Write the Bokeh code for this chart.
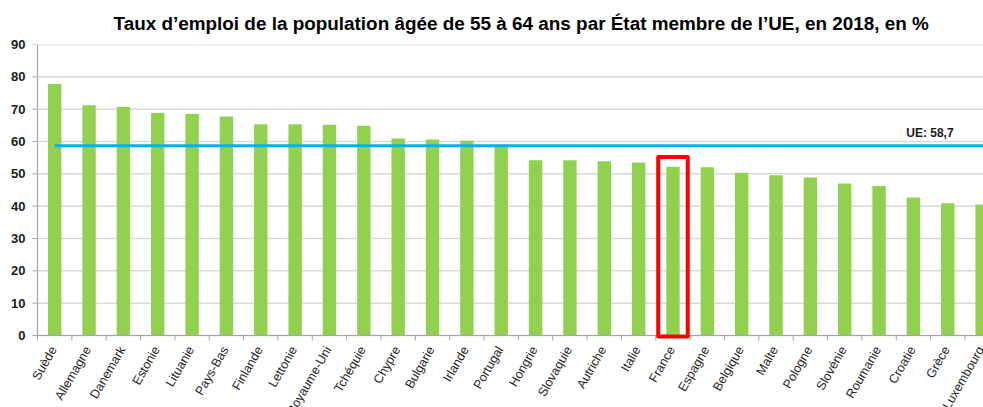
import numpy as np
from bokeh.plotting import figure
from bokeh.models import FixedTicker, Range1d, Label, ColumnDataSource
from bokeh.core.properties import value
from bokeh.embed import file_html
from bokeh.resources import INLINE

countries = ["Suède", "Allemagne", "Danemark", "Estonie", "Lituanie", "Pays-Bas",
             "Finlande", "Lettonie", "Royaume-Uni", "Tchéquie", "Chypre", "Bulgarie",
             "Irlande", "Portugal", "Hongrie", "Slovaquie", "Autriche", "Italie",
             "France", "Espagne", "Belgique", "Malte", "Pologne", "Slovénie",
             "Roumanie", "Croatie", "Grèce", "Luxembourg"]
rates = [77.8, 71.2, 70.7, 68.8, 68.5, 67.7, 65.3, 65.3, 65.2, 64.9, 60.9, 60.6,
         60.2, 59.0, 54.2, 54.2, 53.9, 53.5, 52.2, 52.0, 50.3, 49.6, 48.9, 47.0,
         46.2, 42.7, 40.9, 40.5]
eu_avg = 58.7
eu_label = "UE: 58,7"
y_ticks = [0, 10, 20, 30, 40, 50, 60, 70, 80, 90]
highlight = "France"
title = "Taux d’emploi de la population âgée de 55 à 64 ans par État membre de l’UE, en 2018, en %"

# layout (pixels)
W, H = 983, 407
TOP = 44           # frame top (value 90)
AXIS_X = 37        # position of the value axis
PAD = 10           # extra room left of the axis for the first label
PLOT_H = 291       # height of the 0..90 value area
CAT_PX = 34.35     # width of one category
LABEL_H = H - TOP - PLOT_H
ppu = PLOT_H / 90.0
TICK = 5

n = len(countries)
xs = np.arange(n) + 0.5
src = ColumnDataSource(dict(x=xs, top=rates, name=countries))

p = figure(width=W, height=H,
           x_range=Range1d(-PAD / CAT_PX, (W - AXIS_X) / CAT_PX),
           y_range=Range1d(-LABEL_H / ppu, 90),
           output_backend="svg", toolbar_location=None,
           min_border_left=AXIS_X - PAD, min_border_right=0,
           min_border_top=TOP, min_border_bottom=0)
p.outline_line_color = None
p.background_fill_color = "white"
p.border_fill_color = "white"

p.title.text = title
p.title.text_font = "Liberation Sans"
p.title.text_font_size = "18.9px"
p.title.text_font_style = "bold"
p.title.text_color = "#000000"
p.title.align = "left"
p.title.offset = 86
p.title.standoff = 21

# grid lines
p.xgrid.visible = False
p.ygrid.visible = False
yt = np.array(y_ticks, dtype=float)
p.segment(x0=0, y0=yt, x1=n, y1=yt, line_color="#d9d9d9", line_width=1.5)

p.vbar(x="x", top="top", width=0.39, source=src, fill_color="#92d050", line_color=None)

# axes drawn as lines with tick marks
tick_x = TICK / CAT_PX
tick_y = TICK / ppu
p.segment(x0=0, y0=0, x1=0, y1=90, line_color="#a6a6a6", line_width=1.2)
p.segment(x0=-tick_x, y0=yt, x1=0, y1=yt, line_color="#a6a6a6", line_width=1)
p.segment(x0=0, y0=0, x1=n, y1=0, line_color="#a6a6a6", line_width=1.2)
bounds = np.arange(n + 1)
p.segment(x0=bounds, y0=0, x1=bounds, y1=-tick_y, line_color="#a6a6a6", line_width=1)

# EU average line
p.line(x=[xs[0], n], y=[eu_avg, eu_avg], line_color="#00b0f0", line_width=3)
p.add_layout(Label(x=n - 1.33, y=eu_avg, y_offset=13, text=eu_label, text_align="right",
                   text_baseline="alphabetic", text_font="Liberation Sans",
                   text_font_size="12px", text_font_style="bold", text_color="#1a1a1a"))

# highlight box
hi = countries.index(highlight)
p.quad(left=xs[hi] - 0.43, right=xs[hi] + 0.43, bottom=-1 / ppu, top=rates[hi] + 3,
       fill_alpha=0, line_color="#ff0000", line_width=4, line_join="round")

# category labels
p.text(x="x", y=0, text="name", source=src, angle=np.pi / 3, x_offset=-1, y_offset=12,
       text_align="right", text_baseline="middle",
       text_font=value("Liberation Sans"), text_font_size="12.6px", text_color="#262626")

# value axis labels
p.yaxis.ticker = FixedTicker(ticks=y_ticks)
p.yaxis.bounds = (0, 90)
p.yaxis.axis_line_color = None
p.yaxis.major_tick_line_color = None
p.yaxis.major_tick_out = 0
p.yaxis.major_tick_in = 0
p.yaxis.minor_tick_line_color = None
p.yaxis.major_label_text_font = "Liberation Sans"
p.yaxis.major_label_text_font_size = "13px"
p.yaxis.major_label_text_font_style = "bold"
p.yaxis.major_label_text_color = "#1a1a1a"
p.yaxis.major_label_standoff = 2

p.xaxis.visible = False

open("out.html", "w").write(file_html(p, INLINE))
